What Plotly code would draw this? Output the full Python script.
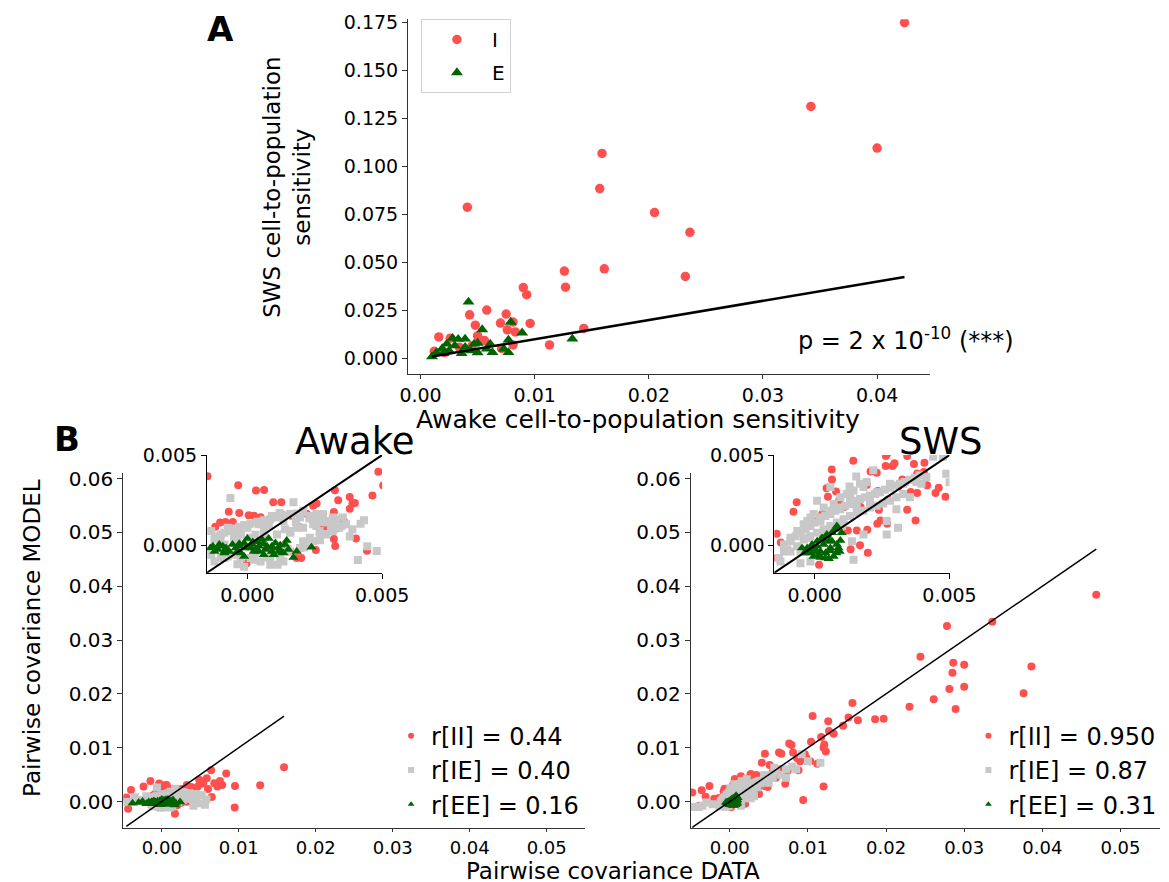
import plotly.graph_objects as go

RED = "#ff5050"
GREY = "#c8c8c8"
GREEN = "#006400"
FONT = "DejaVu Sans"

# the photographed page comes out slightly scaled/shifted against the figure,
# so reference pixel positions are mapped back through this correction
PAGE_MARGIN = 8
SX, CX, SY, CY = 0.975, 3.4, 0.981, 12.0
W, H = 1188, 879

# Panel A: (awake, SWS) cell-to-population sensitivity, one pair per cell
a_inh = [(0.0424, 0.1750), (0.0342, 0.1313), (0.0400, 0.1096), (0.0159, 0.1068), (0.0157, 0.0885),
         (0.0041, 0.0788), (0.0205, 0.0760), (0.0236, 0.0657), (0.0161, 0.0467), (0.0126, 0.0455),
         (0.0232, 0.0427), (0.0127, 0.0371), (0.0090, 0.0369), (0.0093, 0.0332), (0.0058, 0.0252),
         (0.0075, 0.0231), (0.0043, 0.0227), (0.0048, 0.0173), (0.0070, 0.0184), (0.0096, 0.0182),
         (0.0081, 0.0189), (0.0143, 0.0156), (0.0076, 0.0149), (0.0083, 0.0138), (0.0050, 0.0117),
         (0.0056, 0.0093), (0.0016, 0.0112), (0.0026, 0.0105), (0.0113, 0.0070), (0.0081, 0.0070),
         (0.0012, 0.0037), (0.0071, 0.0052), (0.0034, 0.0058), (0.0021, 0.0030), (0.0045, 0.0065)]
a_exc = [(0.0042, 0.0294), (0.0079, 0.0189), (0.0054, 0.0150), (0.0089, 0.0133), (0.0133, 0.0101),
         (0.0077, 0.0096), (0.0028, 0.0105), (0.0033, 0.0100), (0.0039, 0.0101), (0.0023, 0.0075),
         (0.0019, 0.0052), (0.0010, 0.0009), (0.0014, 0.0031), (0.0030, 0.0066), (0.0036, 0.0026),
         (0.0050, 0.0030), (0.0061, 0.0075), (0.0058, 0.0049), (0.0063, 0.0031), (0.0050, 0.0080),
         (0.0073, 0.0049), (0.0077, 0.0031), (0.0039, 0.0058), (0.0044, 0.0040), (0.0025, 0.0040),
         (0.0020, 0.0026), (0.0047, 0.0075)]

# Panel B: (data, model) pairwise covariances
awake_ii = [(-0.00148, 0.00383), (-0.00034, 0.00333), (0.00032, 0.00304), (0.00062, 0.00307), (0.00096, 0.00239),
            (0.00126, 0.00239), (-0.00069, 0.00187), (-0.00030, 0.00180), (0.00005, 0.00168), (0.00025, 0.00165),
            (0.00049, 0.00157), (-0.00054, 0.00131), (-0.00101, 0.00128), (-0.00081, 0.00131), (-0.00119, 0.00104),
            (0.00119, 0.00176), (0.00133, 0.00168), (0.00163, 0.00165), (0.00195, 0.00102), (0.00220, 0.00176),
            (0.00244, 0.00220), (0.00257, 0.00232), (0.00281, 0.00172), (0.00306, 0.00109), (0.00269, 0.00102),
            (0.00325, 0.00306), (0.00321, 0.00185), (0.00337, 0.00250), (0.00380, 0.00268), (0.00390, 0.00232),
            (0.00399, 0.00235), (0.00380, 0.00204), (0.00358, 0.00135), (0.00325, 0.00111), (0.00321, 0.00037),
            (0.00326, -0.00002), (0.00403, 0.00039), (0.00464, 0.00276), (0.00504, 0.00332), (0.00254, -0.00024),
            (0.00444, -0.00028), (0.00183, -0.00069), (0.00200, -0.00069), (-0.00003, -0.00098), (0.00290, 0.00105),
            (0.00330, 0.00095), (0.01588, 0.00636), (0.01278, 0.00302), (0.00947, -0.00111), (0.00951, 0.00290),
            (0.00837, 0.00519), (0.00755, 0.00383), (0.00784, 0.00309), (0.00641, 0.00580), (0.00584, 0.00432),
            (0.00600, 0.00235), (0.00649, 0.00086), (0.00486, 0.00407), (0.00171, -0.00228), (-0.00437, -0.00136),
            (-0.00461, 0.00074), (-0.00400, 0.00216), (-0.00237, 0.00278), (0.00682, 0.00340), (0.00722, 0.00278),
            (0.00539, 0.00340)]
awake_ie = [(-0.00063, 0.00263), (0.00171, 0.00239), (0.00433, 0.00140), (0.00445, -0.00004), (0.00112, -0.00106),
            (-0.00037, -0.00103), (-0.00134, 0.00080), (-0.00134, -0.00050), (-0.00098, 0.00062), (-0.00049, 0.00080),
            (0.00000, 0.00099), (0.00043, 0.00118), (0.00091, 0.00164), (0.00134, 0.00136), (0.00195, 0.00155),
            (0.00207, 0.00192), (0.00256, 0.00174), (0.00280, 0.00174), (0.00317, 0.00155), (0.00354, 0.00155),
            (0.00268, 0.00080), (0.00232, 0.00043), (0.00207, 0.00024), (-0.00085, -0.00069), (0.00024, -0.00078),
            (0.00073, -0.00065), (-0.00024, 0.00062), (-0.00073, 0.00099), (0.00061, 0.00090), (0.00159, 0.00071),
            (0.00183, 0.00099), (0.00244, 0.00118), (0.00293, 0.00127), (0.00329, 0.00127), (0.00122, -0.00069),
            (0.00560, -0.00060), (0.00520, 0.00120), (0.00580, 0.00040), (0.00480, -0.00030), (-0.00350, 0.00080),
            (-0.00450, -0.00010), (-0.00300, 0.00030), (-0.00200, 0.00100), (0.00380, 0.00050), (0.00410, -0.00080),
            (-0.00100, 0.00020), (-0.00050, 0.00040), (0.00030, 0.00060), (0.00080, 0.00110), (0.00140, 0.00090),
            (0.00180, 0.00130), (0.00230, 0.00150), (0.00270, 0.00130), (0.00310, 0.00100), (0.00350, 0.00110),
            (0.00390, 0.00090), (0.00420, 0.00120), (0.00030, -0.00040), (0.00090, -0.00030), (0.00150, -0.00020),
            (0.00210, -0.00010), (0.00270, 0.00030), (-0.00120, 0.00040), (0.00050, 0.00130), (0.00120, 0.00180),
            (-0.00122, 0.00034), (-0.00104, 0.00052), (-0.00085, 0.00071), (-0.00067, 0.00080), (-0.00049, 0.00095),
            (-0.00030, 0.00103), (-0.00012, 0.00114), (0.00012, 0.00121), (0.00037, 0.00132), (0.00061, 0.00140),
            (0.00085, 0.00146), (0.00110, 0.00155), (0.00134, 0.00164), (0.00159, 0.00174), (0.00183, 0.00177),
            (0.00207, 0.00183), (0.00232, 0.00164), (0.00256, 0.00155), (0.00280, 0.00146), (0.00305, 0.00136),
            (0.00329, 0.00146), (-0.00122, -0.00088), (-0.00098, -0.00069), (-0.00073, -0.00060), (-0.00049, -0.00050),
            (-0.00024, -0.00069), (0.00012, -0.00069), (0.00049, -0.00088), (0.00085, -0.00069), (0.00122, -0.00050),
            (0.00159, -0.00032), (0.00195, -0.00013), (0.00220, 0.00006), (0.00244, 0.00024), (0.00268, 0.00043),
            (0.00293, 0.00062), (0.00317, 0.00080), (0.00341, 0.00099), (0.00366, 0.00118), (-0.00085, 0.00006),
            (-0.00037, 0.00024), (0.00012, 0.00043), (0.00061, 0.00052), (0.00110, 0.00062), (0.00159, 0.00080),
            (0.00207, 0.00099), (0.00256, 0.00108), (0.00085, -0.00106), (0.00134, -0.00088), (-0.00012, -0.00116)]
awake_ee = [(-0.00137, -0.00013), (-0.00110, -0.00022), (-0.00091, -0.00004), (-0.00067, -0.00032), (-0.00043, -0.00013),
            (-0.00024, -0.00041), (0.00000, 0.00039), (0.00012, -0.00013), (0.00037, 0.00021), (0.00043, -0.00032),
            (0.00073, -0.00004), (0.00079, 0.00039), (0.00104, 0.00015), (0.00116, -0.00032), (0.00146, 0.00028),
            (0.00152, -0.00022), (0.00171, -0.00065), (0.00183, -0.00032), (0.00238, -0.00009), (-0.00012, -0.00060),
            (-0.00085, -0.00032), (0.00061, -0.00050), (0.00091, -0.00032), (0.00122, 0.00002), (0.00030, -0.00020),
            (0.00060, 0.00010), (0.00090, -0.00010), (-0.00030, 0.00010), (0.00130, -0.00040), (0.00020, 0.00020),
            (-0.00380, -0.00030), (-0.00300, -0.00020), (-0.00250, 0.00000), (-0.00200, -0.00040), (-0.00170, -0.00010),
            (-0.00128, -0.00004), (-0.00104, 0.00006), (-0.00079, -0.00013), (-0.00055, 0.00006), (-0.00030, -0.00004),
            (-0.00006, -0.00013), (0.00018, 0.00006), (0.00043, -0.00004), (0.00067, -0.00022), (0.00091, -0.00004),
            (0.00116, -0.00013), (0.00140, 0.00006), (0.00024, -0.00032), (-0.00037, -0.00032), (-0.00085, -0.00041),
            (-0.00122, -0.00032), (0.00098, -0.00050), (0.00134, -0.00041), (0.00055, 0.00034), (-0.00012, 0.00015)]

sws_ii = [(0.00143, 0.00469), (0.00264, 0.00494), (0.00296, 0.00454), (0.00289, 0.00439), (0.00263, 0.00439),
          (0.00207, 0.00409), (0.00230, 0.00402), (0.00343, 0.00494), (0.00368, 0.00450), (0.00407, 0.00457),
          (0.00405, 0.00406), (0.00063, 0.00420), (0.00064, 0.00365), (0.00044, 0.00317), (0.00079, 0.00298),
          (0.00049, 0.00269), (0.00091, 0.00250), (-0.00067, 0.00239), (-0.00079, 0.00187), (0.00109, 0.00213),
          (0.00193, 0.00335), (0.00234, 0.00302), (0.00272, 0.00254), (0.00325, 0.00365), (0.00356, 0.00296),
          (0.00380, 0.00290), (0.00417, 0.00333), (0.00448, 0.00290), (0.00460, 0.00320), (0.00485, 0.00269),
          (0.00343, 0.00198), (0.00238, 0.00198), (0.00244, 0.00139), (0.00269, 0.00120), (0.00232, 0.00120),
          (0.00374, 0.00139), (0.00195, 0.00087), (0.00156, 0.00083), (0.00168, 0.00002), (0.00197, -0.00039),
          (0.00133, -0.00020), (0.00123, 0.00083), (0.00028, 0.00176), (-0.00003, 0.00139), (0.00016, -0.00106),
          (-0.00126, 0.00017), (-0.00141, 0.00065), (-0.00141, -0.00068), (0.00380, 0.00398), (0.00312, 0.00328),
          (0.00170, 0.00213),
          (0.0469, 0.0384), (0.0336, 0.0334), (0.0278, 0.0326), (0.0244, 0.0269), (0.0286, 0.0258),
          (0.0300, 0.0254), (0.0285, 0.0239), (0.0281, 0.0209), (0.0300, 0.0213), (0.0261, 0.0190),
          (0.0230, 0.0176), (0.0289, 0.0172), (0.0386, 0.0251), (0.0376, 0.0201), (0.0197, 0.0154),
          (0.0186, 0.0153), (0.0157, 0.0183), (0.0164, 0.0151), (0.0106, 0.0159), (0.0120, 0.0028),
          (0.0094, 0.0003), (0.0126, 0.0149), (0.0145, 0.0141), (0.0152, 0.0156), (0.0133, 0.0126),
          (0.0127, 0.0131), (0.0117, 0.0120), (0.0104, 0.0111), (0.0121, 0.0106), (0.0123, 0.0093),
          (0.0120, 0.0100), (0.0112, 0.0070), (0.0103, 0.0075), (0.0096, 0.0088), (0.0090, 0.0075),
          (0.0086, 0.0081), (0.0076, 0.0108), (0.0079, 0.0105), (0.0081, 0.0091), (0.0063, 0.0091),
          (0.0066, 0.0089), (0.0045, 0.0089), (0.0041, 0.0072), (0.0051, 0.0068), (0.0088, 0.0058),
          (0.0074, 0.0057), (0.0071, 0.0033), (0.0067, 0.0051), (0.0059, 0.0044), (0.0027, 0.0051),
          (-0.0026, 0.0029), (-0.0036, 0.0021), (-0.0031, 0.0009), (-0.0048, 0.0017), (-0.0039, -0.0008),
          (-0.0020, 0.0005), (0.0098, 0.0081), (0.0065, 0.0060), (0.0055, 0.0055)]
sws_ie = [(0.00488, 0.00397), (0.00439, 0.00490), (0.00396, 0.00341), (0.00353, 0.00267), (0.00303, 0.00201),
          (0.00267, 0.00136), (0.00217, 0.00416), (0.00154, 0.00382), (0.00129, 0.00326), (0.00131, 0.00267),
          (0.00156, 0.00220), (0.00205, 0.00248), (0.00230, 0.00295), (0.00181, 0.00323), (0.00095, 0.00211),
          (0.00058, 0.00192), (0.00021, 0.00155), (-0.00016, 0.00155), (-0.00041, 0.00118), (-0.00065, 0.00080),
          (-0.00090, 0.00043), (-0.00114, 0.00006), (-0.00133, -0.00069), (-0.00102, -0.00022), (-0.00053, -0.00032),
          (-0.00016, -0.00088), (-0.00053, -0.00097), (0.00144, -0.00078), (0.00138, 0.00024), (0.00181, 0.00062),
          (0.00101, 0.00108), (0.00045, 0.00080), (-0.00028, 0.00043), (0.00267, 0.00062), (0.00309, 0.00099),
          (0.00328, 0.00341), (0.00377, 0.00351), (0.00414, 0.00379), (0.00475, 0.00490), (0.00279, 0.00341),
          (0.00058, 0.00323), (0.00009, 0.00248),
          (-0.00090, 0.00024), (-0.00071, 0.00052), (-0.00053, 0.00071), (-0.00034, 0.00090), (-0.00016, 0.00108),
          (0.00002, 0.00127), (0.00021, 0.00136), (0.00039, 0.00164), (0.00058, 0.00174), (0.00076, 0.00192),
          (0.00095, 0.00201), (0.00113, 0.00220), (0.00131, 0.00229), (0.00150, 0.00248), (0.00168, 0.00257),
          (0.00187, 0.00267), (0.00205, 0.00276), (0.00224, 0.00285), (0.00242, 0.00295), (0.00260, 0.00308),
          (0.00279, 0.00319), (0.00297, 0.00332), (0.00316, 0.00341), (0.00334, 0.00351), (0.00353, 0.00364),
          (0.00371, 0.00375), (0.00389, 0.00388), (-0.00041, 0.00034), (-0.00016, 0.00052), (0.00009, 0.00071),
          (0.00033, 0.00090), (0.00058, 0.00108), (0.00082, 0.00127), (0.00107, 0.00146), (0.00131, 0.00164),
          (0.00156, 0.00183), (0.00181, 0.00192), (0.00205, 0.00211), (0.00230, 0.00220), (0.00254, 0.00233),
          (0.00279, 0.00248), (0.00303, 0.00267), (0.00328, 0.00285), (-0.00090, -0.00032), (-0.00065, -0.00004),
          (-0.00114, -0.00032), (-0.00127, -0.00088), (-0.00041, -0.00032), (0.00144, 0.00304), (0.00168, 0.00341),
          (0.00193, 0.00351), (0.00119, 0.00285), (0.00095, 0.00267), (0.00070, 0.00229), (0.00033, 0.00211),
          (-0.00004, 0.00174), (-0.00028, 0.00136),
          (-0.0047, -0.0010), (-0.0035, -0.0008), (-0.0022, -0.0005), (0.0055, 0.0044), (0.0059, 0.0057),
          (0.0072, 0.0060), (0.0092, 0.0088), (0.0116, 0.0072), (0.0065, 0.0050), (0.0080, 0.0065),
          (0.0085, 0.0060), (0.0100, 0.0075), (0.0050, 0.0035), (-0.0030, -0.0002), (-0.0040, -0.0010),
          (0.0057, 0.0063), (0.0072, 0.0044)]
sws_ee = [(-0.00047, -0.00013), (-0.00028, -0.00041), (-0.00004, -0.00060), (0.00021, -0.00065), (0.00052, -0.00073),
          (0.00058, -0.00028), (0.00080, -0.00041), (0.00088, -0.00013), (0.00033, 0.00006), (0.00009, -0.00004),
          (-0.00016, -0.00022), (0.00045, 0.00062), (0.00082, 0.00108), (0.00095, 0.00028), (0.00027, 0.00034),
          (0.00064, 0.00024), (0.00002, -0.00032), (0.00040, -0.00041), (-0.00028, -0.00013), (-0.00010, 0.00006),
          (0.00009, 0.00024), (0.00027, 0.00043), (0.00045, 0.00052), (0.00064, 0.00071), (0.00076, 0.00090),
          (-0.00016, -0.00041), (0.00021, -0.00032), (0.00058, -0.00013), (0.00082, 0.00006), (0.00039, -0.00069),
          (0.00015, -0.00050), (0.00070, -0.00060), (0.00052, 0.00024), (0.00002, -0.00022), (-0.00034, -0.00032),
          (0.00092, -0.00032), (0.00100, 0.00071)]

pair_labels = ["II", "IE", "EE"]
awake_r = ["0.44", "0.40", "0.16"]
sws_r = ["0.950", "0.87", "0.31"]


def px(v):
    return ((v - CX) / SX - PAGE_MARGIN) / W


def py(v):
    return min(1.0, 1 - ((v - CY) / SY - PAGE_MARGIN) / H)


def xs(pts):
    return [p[0] for p in pts]


def ys(pts):
    return [p[1] for p in pts]


def axis(domain, rng, anchor, size=19, dtick=None, tickvals=None, fmt=".2f", color="#333333", ticklen=5):
    d = dict(domain=domain, range=rng, anchor=anchor, showline=True, linecolor=color, linewidth=1,
             ticks="outside", ticklen=ticklen, tickwidth=1, tickcolor=color, showgrid=False, zeroline=False,
             tickformat=fmt, tickfont=dict(family=FONT, size=size, color="black"))
    if dtick is not None:
        d.update(tick0=0, dtick=dtick)
    if tickvals is not None:
        d.update(tickvals=tickvals)
    return d


fig = go.Figure()

# ---- panel A
fig.add_trace(go.Scatter(x=xs(a_inh), y=ys(a_inh), mode="markers", name="I", legendgroup="I",
                         marker=dict(color=RED, size=9.5), xaxis="x", yaxis="y", legend="legend"))
fig.add_trace(go.Scatter(x=xs(a_exc), y=ys(a_exc), mode="markers", name="E", legendgroup="E",
                         marker=dict(color=GREEN, size=10.5, symbol="triangle-up"), xaxis="x", yaxis="y",
                         legend="legend"))
all_a = xs(a_inh) + xs(a_exc)
lo, hi = min(all_a), max(all_a)
fig.add_trace(go.Scatter(x=[lo, hi], y=[lo, hi], mode="lines", line=dict(color="black", width=2.5),
                         showlegend=False, xaxis="x", yaxis="y"))

# ---- panel B (main axes + inset for each state)
panels = [
    (awake_ii, awake_ie, awake_ee, awake_r, ("x2", "y2"), ("x4", "y4"), "legend2"),
    (sws_ii, sws_ie, sws_ee, sws_r, ("x3", "y3"), ("x5", "y5"), "legend3"),
]
styles = [dict(color=RED, symbol="circle", size=8), dict(color=GREY, symbol="square", size=8),
          dict(color=GREEN, symbol="triangle-up", size=9)]

for ii, ie, ee, rvals, main_ax, inset_ax, leg in panels:
    series = [ii, ie, ee]
    allx = xs(ii) + xs(ie) + xs(ee)
    lo, hi = min(allx), max(allx)
    for ax, lw in [(main_ax, 1.5), (inset_ax, 2)]:
        for pts, st in zip(series, styles):
            fig.add_trace(go.Scatter(x=xs(pts), y=ys(pts), mode="markers", showlegend=False,
                                     marker=st, xaxis=ax[0], yaxis=ax[1]))
        fig.add_trace(go.Scatter(x=[lo, hi], y=[lo, hi], mode="lines", showlegend=False,
                                 line=dict(color="black", width=lw), xaxis=ax[0], yaxis=ax[1]))
    for lab, r, st in zip(pair_labels, rvals, styles):
        fig.add_trace(go.Scatter(x=[None], y=[None], mode="markers", name=f"r[{lab}] = {r}",
                                 marker=dict(st, size=6), xaxis=main_ax[0], yaxis=main_ax[1], legend=leg))

main_y = [py(824), py(471)]
inset_y = [py(570), py(453)]
fig.update_layout(
    width=W, height=H, margin=dict(l=0, r=0, t=0, b=0),
    paper_bgcolor="white", plot_bgcolor="rgba(0,0,0,0)",
    font=dict(family=FONT, color="black"),
    xaxis=axis([px(405), px(929)], [-0.0011, 0.0446], "y", dtick=0.01, ticklen=4),
    yaxis=axis([py(373), py(20)], [-0.0084, 0.1768], "x", dtick=0.025, fmt=".3f"),
    xaxis2=axis([px(119), px(583)], [-0.005, 0.055], "y2", size=18, dtick=0.01, ticklen=3),
    yaxis2=axis(main_y, [-0.005, 0.061], "x2", size=20, dtick=0.01),
    xaxis3=axis([px(689), px(1160)], [-0.005, 0.055], "y3", size=18, dtick=0.01, ticklen=3),
    yaxis3=axis(main_y, [-0.005, 0.061], "x3", size=20, dtick=0.01),
    xaxis4=axis([px(203), px(379)], [-0.0015, 0.005], "y4", tickvals=[0, 0.005], fmt=".3f", color="black"),
    yaxis4=axis(inset_y, [-0.0015, 0.005], "x4", tickvals=[0, 0.005], fmt=".3f", color="black"),
    xaxis5=axis([px(773), px(949)], [-0.0015, 0.005], "y5", tickvals=[0, 0.005], fmt=".3f", color="black"),
    yaxis5=axis(inset_y, [-0.0015, 0.005], "x5", tickvals=[0, 0.005], fmt=".3f", color="black"),
    legend=dict(x=px(418), y=py(19), xanchor="left", yanchor="top", bgcolor="white",
                bordercolor="#d0d0d0", borderwidth=1, font=dict(family=FONT, size=20),
                itemwidth=60, tracegroupgap=4),
    legend2=dict(x=px(388), y=py(710), xanchor="left", yanchor="top", bgcolor="rgba(0,0,0,0)",
                 font=dict(family=FONT, size=24), itemwidth=30),
    legend3=dict(x=px(968), y=py(710), xanchor="left", yanchor="top", bgcolor="rgba(0,0,0,0)",
                 font=dict(family=FONT, size=24), itemwidth=30),
)

ann = [
    dict(text="<b>A</b>", x=px(217), y=py(30), size=34),
    dict(text="<b>B</b>", x=px(62), y=py(437), size=34),
    dict(text="Awake", x=px(352), y=py(440), size=37),
    dict(text="SWS", x=px(940), y=py(440), size=37),
    dict(text="Awake cell-to-population sensitivity", x=px(636), y=py(418), size=25),
    dict(text="Pairwise covariance DATA", x=px(611), y=py(866), size=23),
    dict(text="SWS cell-to-population<br>sensitivity", x=px(284), y=py(187), size=23, angle=-90),
    dict(text="Pairwise covariance MODEL", x=px(27), y=py(635), size=23, angle=-90),
    dict(text="p = 2 x 10<sup>-10</sup> (***)", x=px(795), y=py(338), size=24, xanchor="left"),
]
for a in ann:
    fig.add_annotation(text=a["text"], x=a["x"], y=a["y"], xref="paper", yref="paper",
                       xanchor=a.get("xanchor", "center"), yanchor=a.get("yanchor", "middle"),
                       showarrow=False, textangle=a.get("angle", 0),
                       font=dict(family=FONT, size=a["size"], color="black"))

fig.write_html("out.html")
